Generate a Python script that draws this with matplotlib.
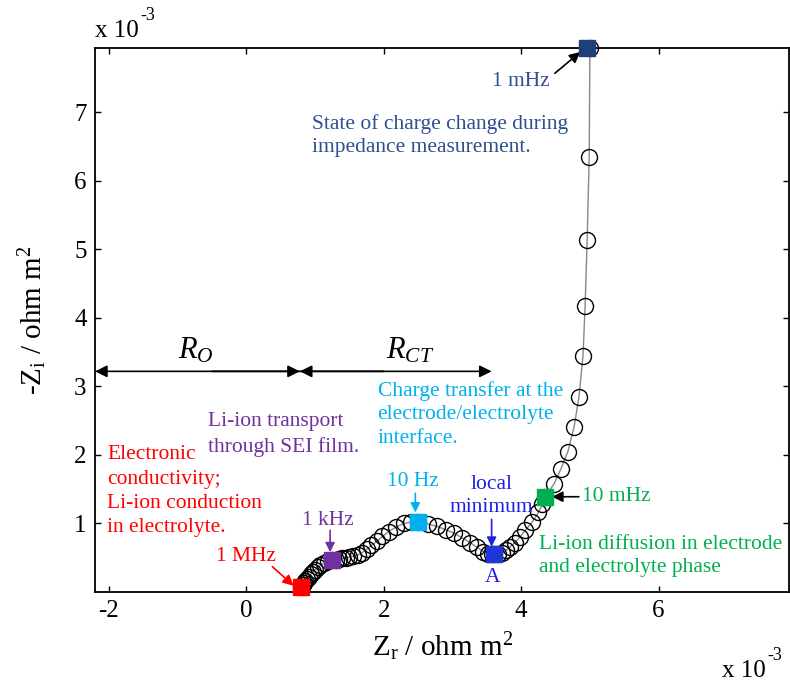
import matplotlib
matplotlib.use("Agg")
import matplotlib.pyplot as plt

plt.rcParams['font.family'] = ['Liberation Serif', 'DejaVu Serif']
plt.rcParams['mathtext.fontset'] = 'custom'
plt.rcParams['mathtext.rm'] = 'Liberation Serif'
plt.rcParams['mathtext.it'] = 'Liberation Serif:italic'
plt.rcParams['axes.unicode_minus'] = False

# Impedance data (units of 1e-3 ohm m^2), from 1 MHz down to 1 mHz
zr = [0.80, 0.82, 0.84, 0.86, 0.88, 0.91, 0.94, 0.97, 1.00, 1.04, 1.08, 1.13, 1.19, 1.25,
      1.30, 1.35, 1.40, 1.45, 1.50, 1.56, 1.62, 1.68, 1.75, 1.82, 1.90, 1.98, 2.07, 2.18,
      2.30, 2.40, 2.50,
      2.64, 2.77, 2.90, 3.02, 3.14, 3.26, 3.36, 3.45, 3.52, 3.58, 3.60,
      3.66, 3.72, 3.78, 3.84, 3.91, 3.98, 4.06, 4.16, 4.25, 4.31, 4.35,
      4.48, 4.58, 4.68, 4.77, 4.84, 4.90, 4.93, 4.96, 4.99, 5.00]
zi = [0.07, 0.10, 0.13, 0.16, 0.19, 0.22, 0.26, 0.29, 0.32, 0.36, 0.39, 0.42, 0.45, 0.46,
      0.47, 0.48, 0.49, 0.50, 0.51, 0.52, 0.54, 0.57, 0.62, 0.68, 0.74, 0.81, 0.88, 0.95,
      1.00, 1.02, 1.02,
      0.99, 0.96, 0.91, 0.86, 0.79, 0.72, 0.65, 0.59, 0.56, 0.55, 0.55,
      0.55, 0.57, 0.61, 0.66, 0.72, 0.80, 0.90, 1.02, 1.16, 1.28, 1.39,
      1.58, 1.80, 2.05, 2.41, 2.84, 3.45, 4.17, 5.13, 6.35, 7.94]

# Highlighted frequencies: label, Zr, Zi, colour
mark_labels = ["1 MHz", "1 kHz", "10 Hz", "A", "10 mHz", "1 mHz"]
mark_zr = [0.80, 1.25, 2.50, 3.60, 4.35, 4.96]
mark_zi = [0.07, 0.46, 1.02, 0.55, 1.39, 7.94]
mark_colors = ["#FF0000", "#7030A0", "#00B0F0", "#1F35D8", "#00B050", "#1F3F7A"]

xticks = [-2, 0, 2, 4, 6]
yticks = [1, 2, 3, 4, 5, 6, 7]

fig = plt.figure(figsize=(7.9, 6.85), dpi=100)
ax = fig.add_axes([0.1203, 0.1358, 0.8787, 0.7942])

ax.plot(zr, zi, '-', color='#888888', lw=1.0, zorder=2, clip_on=False)
ax.plot(zr, zi, 'o', mfc='none', mec='black', mew=1.0, ms=11.5, zorder=3, clip_on=False)
for lab, x, y, c in zip(mark_labels, mark_zr, mark_zi, mark_colors):
    ax.plot([x], [y], 's', color=c, ms=11.5, zorder=4, clip_on=False)

ax.set_xlim(-2.2, 7.9)
ax.set_ylim(0, 7.94)
ax.set_xticks(xticks)
ax.set_yticks(yticks)
ax.tick_params(direction='in', length=4, width=1, top=True, right=True, labelsize=18, pad=6)
for s in ax.spines.values():
    s.set_linewidth(1.3)

ax.set_xlabel(r"Z$_\mathregular{r}$ / ohm m$^\mathregular{2}$", fontsize=21, labelpad=6)
ax.set_ylabel(r"-Z$_\mathregular{i}$ / ohm m$^\mathregular{2}$", fontsize=21, labelpad=18)


def sci_label(x, y):
    t = fig.text(x, y, "x 10", fontsize=18, ha='left', va='baseline')
    fig.canvas.draw()
    ax.annotate("-3", xy=(1.0, 1.0), xycoords=t, xytext=(1, -3), textcoords='offset points',
                fontsize=13, ha='left', va='bottom', annotation_clip=False)


sci_label(0.1203, 0.946)
sci_label(0.914, 0.012)

fs = 15.5


def arrow(tail, head, color='black', ms=16):
    ax.annotate('', xy=head, xytext=tail,
                arrowprops=dict(arrowstyle='-|>', color=color, lw=1.2,
                                mutation_scale=ms, shrinkA=0, shrinkB=0),
                annotation_clip=False)


# R_O and R_CT arrows
yr = 3.22
arrow((0.78, yr), (-2.2, yr), ms=18)
arrow((-0.5, yr), (0.78, yr), ms=18)
arrow((0.78, yr), (3.57, yr), ms=18)
arrow((2.0, yr), (0.78, yr), ms=18)
ax.text(-0.74, 3.3, r"$R_O$", fontsize=22, ha='center', va='bottom')
ax.text(2.38, 3.3, r"$R_{CT}$", fontsize=22, ha='center', va='bottom')

# frequency labels and arrows
ax.text(0.0, 0.52, "1 MHz", color='#FF0000', fontsize=fs, ha='center', va='center')
arrow((0.38, 0.37), (0.69, 0.09), color='#FF0000', ms=16)

ax.text(1.19, 1.04, "1 kHz", color='#7030A0', fontsize=fs, ha='center', va='center')
arrow((1.22, 0.90), (1.22, 0.58), color='#7030A0', ms=14)

ax.text(2.42, 1.61, "10 Hz", color='#00B0F0', fontsize=fs, ha='center', va='center')
arrow((2.46, 1.44), (2.46, 1.16), color='#00B0F0', ms=14)

ax.text(3.57, 1.40, "local\nminimum", color='#1F1FE8', fontsize=fs, ha='center', va='center',
        linespacing=1.25)
arrow((3.57, 1.06), (3.57, 0.66), color='#1F1FE8', ms=14)
ax.text(3.59, 0.21, "A", color='#1F1FE8', fontsize=fs, ha='center', va='center')

ax.text(4.88, 1.39, "10 mHz", color='#00B050', fontsize=fs, ha='left', va='center')
arrow((4.84, 1.39), (4.45, 1.39), ms=16)

ax.text(4.0, 7.45, "1 mHz", color='#2F4F8F', fontsize=fs, ha='center', va='center')
arrow((4.49, 7.57), (4.86, 7.88), ms=16)

# descriptions
ax.text(0.96, 6.66, "State of charge change during\nimpedance measurement.", color='#2F4F8F',
        fontsize=fs, ha='left', va='center', linespacing=1.3)
ax.text(1.91, 2.59, "Charge transfer at the\nelectrode/electrolyte\ninterface.", color='#00B0F0',
        fontsize=fs, ha='left', va='center', linespacing=1.3)
ax.text(-0.55, 2.30, "Li-ion transport\nthrough SEI film.", color='#7030A0',
        fontsize=fs, ha='left', va='center', linespacing=1.4)
ax.text(-2.02, 1.47, "Electronic\nconductivity;\nLi-ion conduction\nin electrolyte.", color='#FF0000',
        fontsize=fs, ha='left', va='center', linespacing=1.38)
ax.text(4.26, 0.52, "Li-ion diffusion in electrode\nand electrolyte phase", color='#00B050',
        fontsize=fs, ha='left', va='center', linespacing=1.28)

fig.savefig("out.png", dpi=100)
